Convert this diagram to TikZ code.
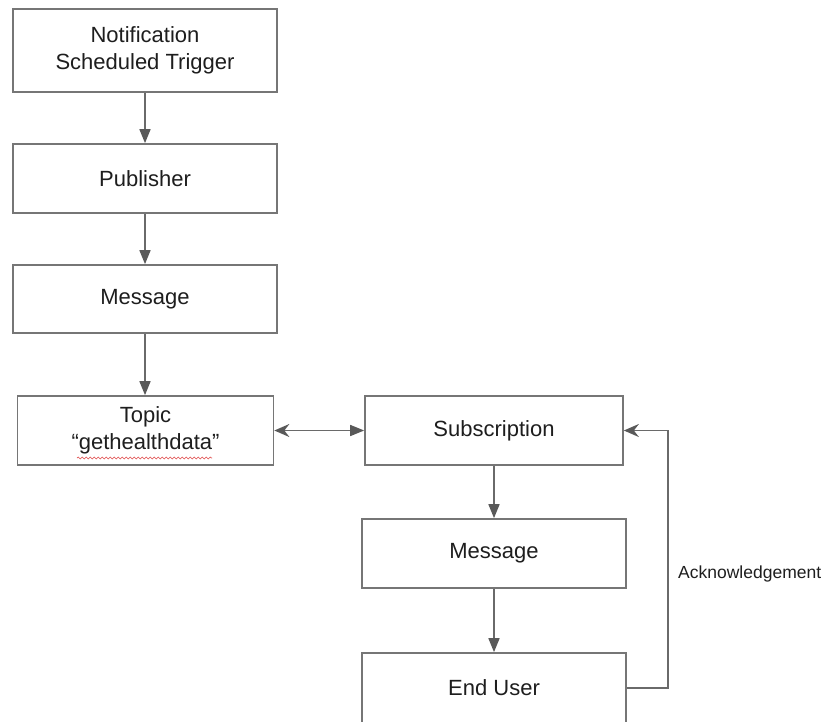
\documentclass[tikz,border=0pt]{standalone}
\usepackage{fontspec}
\setmainfont{Liberation Sans}
\usetikzlibrary{arrows.meta,decorations.pathmorphing}
\definecolor{boxgray}{HTML}{767676}
\definecolor{linegray}{HTML}{6A6A6A}
\definecolor{tipgray}{HTML}{595959}
\definecolor{textdark}{HTML}{1E1E1E}
\definecolor{spellred}{HTML}{E04848}
\begin{document}
\begin{tikzpicture}[x=1pt,y=-1pt,
  box/.style={draw=boxgray,line width=1.7pt,fill=white,align=center,
    font=\fontsize{22}{27}\selectfont,text=textdark,inner sep=0pt},
  widebox/.style={box,minimum width=264pt,minimum height=69pt},
  flow/.style={draw=linegray,line width=1.6pt,-{Triangle[length=14pt,width=11pt,color=tipgray]}},
  backtip/.style={draw=linegray,line width=1.6pt},
]
% canvas
\fill[white] (0,0) rectangle (827,721);
\path[use as bounding box] (0,0) rectangle (827,721);

% left column
\node[box,minimum width=264pt,minimum height=83pt] (trigger) at (145,50.5)
  {Notification\\Scheduled Trigger};
\node[widebox] (publisher) at (145,178.5) {Publisher};
\node[box,minimum width=264pt,minimum height=68pt] (msgA) at (145,299) {Message};
\node[box,minimum width=256pt,minimum height=69pt] (topic) at (145.5,430.5)
  {Topic\\\textquotedblleft gethealthdata\textquotedblright};

% right column
\node[box,minimum width=258pt,minimum height=69pt] (sub) at (494,430.5) {Subscription};
\node[widebox] (msgB) at (494,553.5) {Message};
\node[widebox,minimum height=70pt] (user) at (494,688) {End User};

% spell-check underline below the topic name
\coordinate (wavyA) at (77,458);
\coordinate (wavyB) at (212,458);
\draw[spellred,line width=0.6pt,decorate,
  decoration={snake,amplitude=0.9pt,segment length=4pt}] (wavyA) -- (wavyB);

% connectors
\draw[flow] (trigger) -- (publisher);
\draw[flow] (publisher) -- (msgA);
\draw[flow] (msgA.south) -- (msgA.south |- topic.north);
\draw[backtip,
  {Stealth[length=15pt,width=13pt,inset=5pt,color=tipgray]}-{Triangle[length=14pt,width=11pt,color=tipgray]}]
  (topic.east) -- (sub.west);
\draw[flow] (sub) -- (msgB);
\draw[flow] (msgB) -- (user);

% acknowledgement loop
\coordinate (ackx) at (668,0);
\draw[backtip,-{Stealth[length=15pt,width=13pt,inset=5pt,color=tipgray]}]
  (user.east) -- (user.east -| ackx) -- (sub.east -| ackx) -- (sub.east);
\node[anchor=west,font=\fontsize{17.5}{21}\selectfont,text=textdark,inner sep=0pt]
  (acklabel) at (678,574) {Acknowledgement};
\end{tikzpicture}
\end{document}
